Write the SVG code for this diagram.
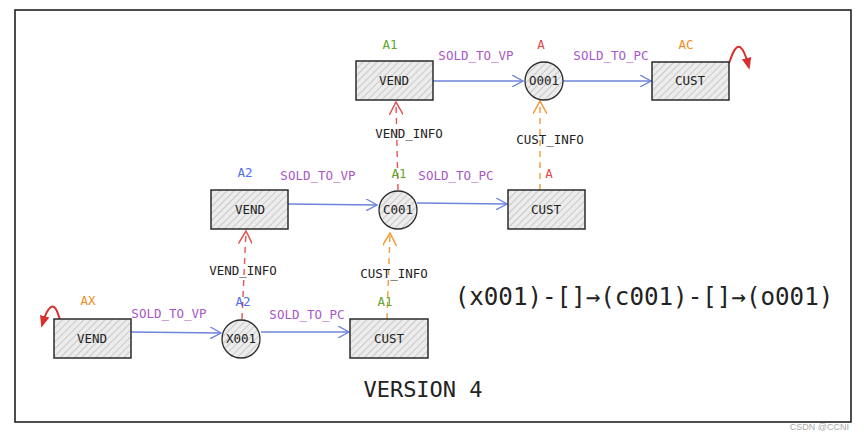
<svg xmlns="http://www.w3.org/2000/svg" width="866" height="440" viewBox="0 0 866 440">
<defs>
<pattern id="hatch" width="5" height="5" patternUnits="userSpaceOnUse" patternTransform="rotate(45)">
<rect width="5" height="5" fill="#ececec"/>
<line x1="0" y1="0" x2="0" y2="5" stroke="#adadad" stroke-width="1.1"/>
</pattern>
<marker id="ab" viewBox="0 0 12 12" refX="11" refY="6" markerWidth="12" markerHeight="12" markerUnits="userSpaceOnUse" orient="auto">
<path d="M0,0 L11,6 L0,12" fill="none" stroke="#6d84de" stroke-width="1.3"/>
</marker>
<marker id="ar" viewBox="0 0 12 12" refX="11" refY="6" markerWidth="14" markerHeight="14" markerUnits="userSpaceOnUse" orient="auto">
<path d="M0,0 L11,6 L0,12" fill="none" stroke="#e25555" stroke-width="1.3"/>
</marker>
<marker id="ao" viewBox="0 0 12 12" refX="11" refY="6" markerWidth="14" markerHeight="14" markerUnits="userSpaceOnUse" orient="auto">
<path d="M0,0 L11,6 L0,12" fill="none" stroke="#f59a3a" stroke-width="1.3"/>
</marker>
<marker id="ac" viewBox="0 0 10 10" refX="5" refY="5" markerWidth="12" markerHeight="12" markerUnits="userSpaceOnUse" orient="auto">
<path d="M0,1 L10,5 L0,9 Z" fill="#d9302f"/>
</marker>
</defs>
<style>
.box{fill:url(#hatch);stroke:#2b2b2b;stroke-width:1.5}
.circ{fill:url(#hatch);stroke:#2b2b2b;stroke-width:1.3}
.t{font-family:"DejaVu Sans Mono","Liberation Mono",monospace;font-size:12.5px;fill:#222;text-anchor:middle}
.lab{font-family:"DejaVu Sans Mono","Liberation Mono",monospace;font-size:12.5px;text-anchor:middle}
.pur{fill:#a957c6}
.grn{fill:#5fa52a}
.red{fill:#e04848}
.org{fill:#f08c1a}
.blu{fill:#4c6ef5}
.blue{stroke:#6d84de;stroke-width:1.5;fill:none;marker-end:url(#ab)}
.dr{stroke:#e25555;stroke-width:1.4;fill:none;stroke-dasharray:6 5;marker-end:url(#ar)}
.do{stroke:#f59a3a;stroke-width:1.4;fill:none;stroke-dasharray:6 5;marker-end:url(#ao)}
.curl{stroke:#d9302f;stroke-width:2;fill:none;marker-end:url(#ac)}
</style>
<rect x="0" y="0" width="866" height="440" fill="#fff"/>
<rect x="15" y="10" width="836" height="412" fill="none" stroke="#222" stroke-width="1.6"/>

<g id="connectors">
<path class="blue" d="M433,81 L523,81"/>
<path class="blue" d="M563,81 L651,81"/>
<path class="blue" d="M288,204 L377,205"/>
<path class="blue" d="M417,203 L507,204"/>
<path class="blue" d="M131,332 L221,333"/>
<path class="blue" d="M261,332 L349,332"/>
<path class="dr" d="M398,190 L396,102"/>
<path class="do" d="M540,190 L540,101"/>
<path class="dr" d="M242,319 L246,231"/>
<path class="do" d="M387,319 L390,233"/>
<path class="curl" d="M729,63 C733,52 736,45 740,47 C744,50 746,56 748,64"/>
<path class="curl" d="M60,320 C57,310 55,305 51,307 C47,310 45,315 43,322"/>
<text class="lab pur" x="476" y="60">SOLD_TO_VP</text>
<text class="lab pur" x="611" y="60">SOLD_TO_PC</text>
<text class="lab pur" x="318" y="180">SOLD_TO_VP</text>
<text class="lab pur" x="456" y="180">SOLD_TO_PC</text>
<text class="lab pur" x="169" y="318">SOLD_TO_VP</text>
<text class="lab pur" x="307" y="319">SOLD_TO_PC</text>
<text class="t" x="409" y="138">VEND_INFO</text>
<text class="t" x="550" y="144">CUST_INFO</text>
<text class="t" x="243" y="275">VEND_INFO</text>
<text class="t" x="394" y="278">CUST_INFO</text>
</g>

<g id="n_vend_top">
<rect class="box" x="356" y="61" width="77" height="39"/>
<text class="t" x="394" y="85">VEND</text>
<text class="lab grn" x="390" y="49">A1</text>
</g>
<g id="n_o001">
<circle class="circ" cx="544" cy="81" r="19"/>
<text class="t" x="544" y="85">O001</text>
<text class="lab red" x="541" y="49">A</text>
</g>
<g id="n_cust_top">
<rect class="box" x="652" y="62" width="77" height="38"/>
<text class="t" x="690" y="85">CUST</text>
<text class="lab org" x="686" y="49">AC</text>
</g>
<g id="n_vend_mid">
<rect class="box" x="211" y="190" width="77" height="39"/>
<text class="t" x="250" y="214">VEND</text>
<text class="lab blu" x="245" y="177">A2</text>
</g>
<g id="n_c001">
<circle class="circ" cx="398" cy="210" r="19"/>
<text class="t" x="398" y="214">C001</text>
<text class="lab grn" x="399" y="178">A1</text>
</g>
<g id="n_cust_mid">
<rect class="box" x="508" y="190" width="77" height="39"/>
<text class="t" x="546" y="214">CUST</text>
<text class="lab red" x="549" y="178">A</text>
</g>
<g id="n_vend_bot">
<rect class="box" x="54" y="319" width="77" height="39"/>
<text class="t" x="92" y="343">VEND</text>
<text class="lab org" x="88" y="305">AX</text>
</g>
<g id="n_x001">
<circle class="circ" cx="241" cy="339" r="19"/>
<text class="t" x="241" y="343">X001</text>
<text class="lab blu" x="243" y="306">A2</text>
</g>
<g id="n_cust_bot">
<rect class="box" x="350" y="319" width="78" height="39"/>
<text class="t" x="389" y="343">CUST</text>
<text class="lab grn" x="385" y="306">A1</text>
</g>

<text x="644" y="305" font-family="'DejaVu Sans Mono','Liberation Mono',monospace" font-size="24.2" fill="#222" text-anchor="middle">(x001)-[]→(c001)-[]→(o001)</text>
<text x="423" y="397" font-family="'DejaVu Sans Mono','Liberation Mono',monospace" font-size="22" fill="#222" text-anchor="middle">VERSION 4</text>
<text x="849" y="430" font-family="'Liberation Sans',Arial,sans-serif" font-size="9" fill="#aaa" text-anchor="end">CSDN @CCNI</text>
</svg>
